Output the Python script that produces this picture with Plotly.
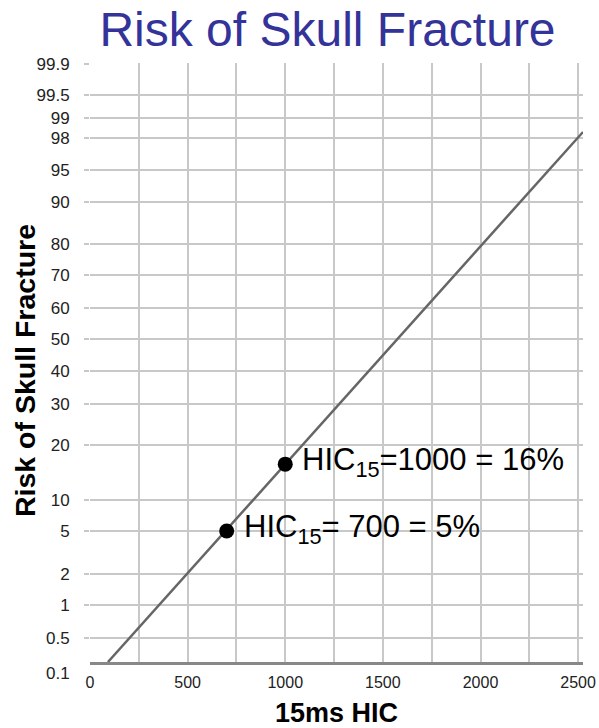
import numpy as np
import plotly.graph_objects as go
from statistics import NormalDist

# ---- data ----
hic_line = [92, 2525]          # HIC15 values at line ends
risk_line = [0.1, 98.36]       # % risk at line ends
hic_points = [700, 1000]
risk_points = [5, 16]
point_labels = ["HIC<sub>15</sub>= 700 = 5%", "HIC<sub>15</sub>=1000 = 16%"]

x_ticks = [0, 500, 1000, 1500, 2000, 2500]
y_tick_labels = ["0.1", "0.5", "1", "2", "5", "10", "20", "30", "40", "50",
                 "60", "70", "80", "90", "95", "98", "99", "99.5", "99.9"]
y_tick_pct = [0.1, 0.5, 1, 2, 5, 10, 20, 30, 40, 50, 60, 70, 80, 90, 95, 98, 99, 99.5, 99.9]

# ---- probability-paper scale (grid line positions of the chart's paper) ----
scale_pos = [0, 24.4, 56.7, 88.4, 131.0, 162.4, 216.7, 257.7, 291.0, 322.7,
             354.4, 386.7, 418.4, 460.4, 491.7, 524.0, 544.4, 567.4, 598.4]
nd = NormalDist()
scale_probit = [nd.inv_cdf(p / 100) for p in y_tick_pct]


def to_scale(pcts):
    z = [nd.inv_cdf(p / 100) for p in pcts]
    return list(np.interp(z, scale_probit, scale_pos))


FONT = "Liberation Sans, Arial, sans-serif"
GRID = "#c8c8c8"
W, H = 599, 728
ML, MR, MT, MB = 90, 16, 63, 66

fig = go.Figure()
fig.add_trace(go.Scatter(x=hic_line, y=to_scale(risk_line), mode="lines",
                         line=dict(color="#666666", width=2.5),
                         showlegend=False, hoverinfo="skip"))
fig.add_trace(go.Scatter(x=hic_points, y=to_scale(risk_points), mode="markers",
                         marker=dict(color="black", size=15),
                         showlegend=False))

for hx, ry, lab in zip(hic_points, to_scale(risk_points), point_labels):
    fig.add_annotation(x=hx, y=ry, text=lab, showarrow=False,
                       xanchor="left", yanchor="middle", xshift=15, yshift=2,
                       font=dict(family=FONT, size=31, color="black"))

# bottom tick label drawn slightly below its grid line, as in the chart
fig.add_annotation(xref="paper", x=0, y=0, text=y_tick_labels[0], showarrow=False,
                   xanchor="right", yanchor="middle", xshift=-18, yshift=-11,
                   font=dict(family=FONT, size=17, color="#222222"))

# y-axis title (sits a little below the plot's middle in the chart)
fig.add_annotation(xref="paper", yref="paper", x=0, y=0.4858,
                   text="<b>Risk of Skull Fracture</b>", textangle=-90, showarrow=False,
                   xanchor="center", yanchor="middle", xshift=-65,
                   font=dict(family=FONT, size=28.5, color="black"))

fig.update_layout(
    width=W, height=H,
    margin=dict(l=ML, r=MR, t=MT, b=MB, autoexpand=False),
    paper_bgcolor="white", plot_bgcolor="white",
    title=dict(text="Risk of Skull Fracture", x=327.5 / W, xref="container", xanchor="center",
               y=1 - 29 / H, yref="container", yanchor="middle",
               font=dict(family=FONT, size=48, color="#333399")),
    xaxis=dict(range=[0, 2525], tickvals=x_ticks, ticktext=[str(v) for v in x_ticks],
               showgrid=True, gridcolor=GRID, gridwidth=1.5,
               minor=dict(dtick=250, tick0=0, showgrid=True, gridcolor=GRID, gridwidth=1.5),
               zeroline=False, showline=True, linecolor="#888888", linewidth=2.5,
               ticks="", ticklabelstandoff=4,
               tickfont=dict(family=FONT, size=16, color="#222222"),
               title=dict(text="<b>15ms HIC</b>", standoff=15,
                          font=dict(family=FONT, size=27, color="black")),
               automargin=False, fixedrange=True),
    yaxis=dict(range=[0, 599], tickmode="array", tickvals=scale_pos[1:],
               ticktext=y_tick_labels[1:],
               showgrid=True, gridcolor=GRID, gridwidth=1.5, zeroline=False,
               ticks="outside", ticklen=5, tickcolor=GRID, tickwidth=1.5,
               ticklabelstandoff=11,
               tickfont=dict(family=FONT, size=17, color="#222222"),
               automargin=False, fixedrange=True),
)

fig.write_html(
    "out.html",
    config={"displayModeBar": False},
    post_script="document.body.style.margin='0';document.body.style.overflow='hidden';",
)
